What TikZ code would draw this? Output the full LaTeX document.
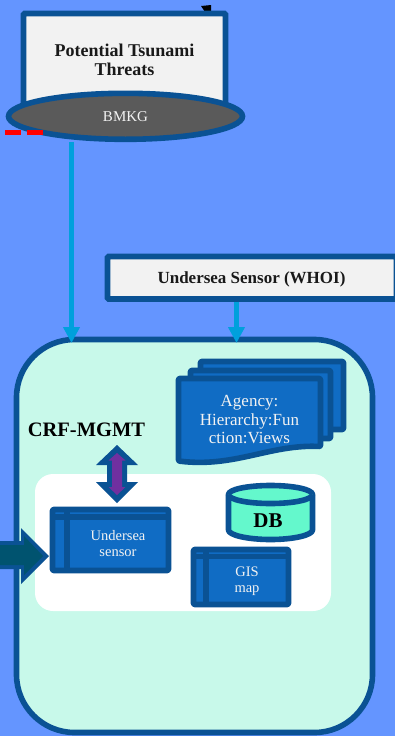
\documentclass[tikz,border=0pt]{standalone}
\usepackage{fontspec}
\setmainfont{Liberation Serif}
\usepackage{xcolor}
\definecolor{colorPage}{HTML}{6495FF}
\definecolor{colorEdge}{HTML}{0A5294}
\definecolor{colorPanel}{HTML}{F2F2F2}
\definecolor{colorMint}{HTML}{C8F9EA}
\definecolor{colorBlock}{HTML}{106CC4}
\definecolor{colorLink}{HTML}{00A0DC}
\definecolor{colorStore}{HTML}{64F8CC}
\definecolor{colorDisc}{HTML}{5A5A5A}
\definecolor{colorFlow}{HTML}{00536F}
\definecolor{colorMgmt}{HTML}{7030A0}
\usetikzlibrary{arrows.meta, shapes.geometric, positioning}
\tikzset{
  every node/.style={outer sep=0pt},
  panel/.style={draw=colorEdge, fill=colorPanel, line width=5.6pt, rounded corners=1pt, align=center, text=black!90},
  lightlabel/.style={text=colorPanel, align=center, inner sep=0pt},
  blockfill/.style={draw=colorEdge, fill=colorBlock, line width=5.6pt, line join=round},
  linkline/.style={draw=colorLink, line width=5.5pt, -{Triangle[length=16pt,width=16pt]}, shorten <=2.5pt},
}
\begin{document}
\begin{tikzpicture}[x=1pt, y=-1pt]
\useasboundingbox[fill=colorPage] (0,0) rectangle (395,736);
\fill[black] (201,6) -- (211,5) -- (211,12) -- (205,12) -- cycle;
\node[panel, minimum width=202pt, minimum height=92pt, anchor=north west, font=\bfseries\fontsize{18}{19}\selectfont] (threats) at (23.5,13.5) {Potential Tsunami\\Threats};
\node[ellipse, draw=colorEdge, fill=colorDisc, line width=5.6pt, minimum width=234pt, minimum height=46pt, inner sep=0pt, text=colorPanel, font=\fontsize{15}{18}\selectfont] (bmkg) at (125.5,116.3) {BMKG};
\draw[red, line width=5pt, dash pattern=on 16pt off 6pt] (5,132.5) -- (43,132.5);
\node[panel, minimum width=289pt, minimum height=42.5pt, anchor=north west] (sensor) at (107.5,256.5) {};
\node[font=\bfseries\fontsize{17}{20}\selectfont, text=black!90] (sensorlabel) at (251.5,279) {Undersea Sensor (WHOI)};
% system frame
\node[draw=colorEdge, fill=colorMint, line width=5.6pt, rounded corners=58pt, minimum width=356pt, minimum height=393pt, anchor=north west] (frame) at (16.5,339.5) {};
\coordinate (frameA) at (71.5,343);
\coordinate (frameB) at (236.5,343);
\draw[linkline] (bmkg.south -| frameA) -- (frameA);
\draw[linkline] (sensor.south -| frameB) -- (frameB);
\node[fill=white, rounded corners=18pt, minimum width=296pt, minimum height=137pt, anchor=north west] (inner) at (35,474) {};
% document stack
\draw[blockfill, rounded corners=1pt] (200.5,361.5) -- (343.5,361.5) -- (343.5,429.5) -- (200.5,429.5) -- cycle;
\draw[blockfill, rounded corners=1pt] (190.5,370.5) -- (330.5,370.5) -- (330.5,438.5) -- (190.5,438.5) -- cycle;
\draw[blockfill, rounded corners=1pt] (178.5,378.5) -- (320.5,378.5) -- (320.5,446.5) .. controls (270,444) and (235,468) .. (178.5,461) -- cycle;
\node[lightlabel, text width=105pt, font=\fontsize{17}{18.5}\selectfont] (agency) at (249.5,420) {Agency:\\Hierarchy:Fun\\ction:Views};
% double arrow
\fill[colorEdge] (117,445) -- (138,465) -- (127,465) -- (127,482) -- (138,482) -- (117,503) -- (96,482) -- (107,482) -- (107,465) -- (96,465) -- cycle;
\fill[colorMgmt] (117,453) -- (125.5,460.5) -- (122,460.5) -- (122,487) -- (125.5,487) -- (117,495) -- (108.5,487) -- (112,487) -- (112,460.5) -- (108.5,460.5) -- cycle;
\node[font=\bfseries\fontsize{20.5}{24}\selectfont, text=black] (mgmt) at (86.5,430) {CRF-MGMT};
% left feed
\fill[colorEdge] (-6,541) -- (21,541) -- (21,528) -- (49,556) -- (21,584) -- (21,569) -- (-6,569) -- cycle;
\fill[colorFlow] (-6,545) -- (24,545) -- (24,536) -- (43,556) -- (24,575) -- (24,565) -- (-6,565) -- cycle;
% sensor store
\node[blockfill, rounded corners=1pt, minimum width=116pt, minimum height=61pt, inner sep=0pt, anchor=north west] (usensor) at (52.5,509.5) {};
\draw[colorEdge, line width=5.5pt] (67,509.5) -- (67,570.5);
\draw[colorEdge, line width=5.5pt] (52.5,517) -- (168.5,517);
\node[lightlabel, font=\fontsize{14.5}{16}\selectfont] (usensorlabel) at (118,544) {Undersea\\sensor};
% gis store
\node[blockfill, rounded corners=1pt, minimum width=95pt, minimum height=55pt, inner sep=0pt, anchor=north west] (gis) at (193.5,549.5) {};
\draw[colorEdge, line width=5.5pt] (206,549.5) -- (206,604.5);
\draw[colorEdge, line width=5pt] (193.5,556) -- (288.5,556);
\node[lightlabel, font=\fontsize{14.5}{16}\selectfont] (gislabel) at (247,581) {GIS\\map};
% database
\draw[blockfill, fill=colorStore] (228.5,494.5) -- (228.5,530) .. controls (228.5,535) and (247,539.5) .. (270.5,539.5) .. controls (294,539.5) and (312.5,535) .. (312.5,530) -- (312.5,494.5) .. controls (312.5,489.5) and (294,485.5) .. (270.5,485.5) .. controls (247,485.5) and (228.5,489.5) .. (228.5,494.5) -- cycle;
\draw[blockfill, fill=colorStore] (228.5,494.5) .. controls (228.5,499.5) and (247,503.5) .. (270.5,503.5) .. controls (294,503.5) and (312.5,499.5) .. (312.5,494.5);
\node[font=\bfseries\fontsize{21}{24}\selectfont, text=black] (db) at (268,521) {DB};
\end{tikzpicture}
\end{document}
